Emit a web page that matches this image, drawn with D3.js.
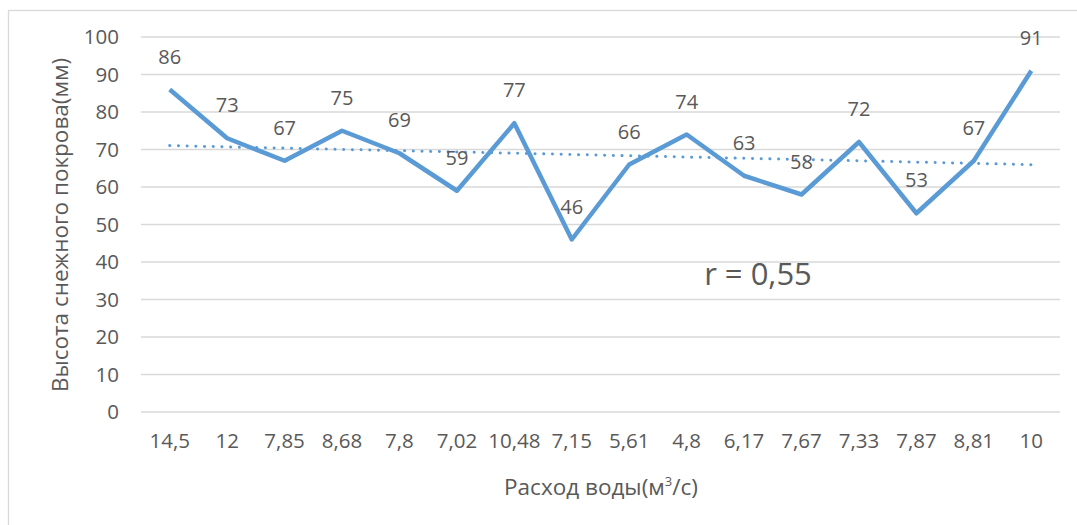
<!DOCTYPE html>
<html>
<head>
<meta charset="utf-8">
<script src="https://cdn.jsdelivr.net/npm/d3@7"></script>
<style>
  body { margin: 0; background: #fff; }
  text { font-family: "Open Sans", "Noto Sans", sans-serif; fill: #595959; }
</style>
</head>
<body>
<div id="chart"></div>
<script>
// Data
const flowLabels = ["14,5", "12", "7,85", "8,68", "7,8", "7,02", "10,48", "7,15",
                    "5,61", "4,8", "6,17", "7,67", "7,33", "7,87", "8,81", "10"];
const snowDepth = [86, 73, 67, 75, 69, 59, 77, 46, 66, 74, 63, 58, 72, 53, 67, 91];
const yTicks = [0, 10, 20, 30, 40, 50, 60, 70, 80, 90, 100];
const corrLabel = "r = 0,55";

const width = 1077, height = 525;
const margin = { top: 37, right: 17, bottom: 113, left: 141 };

const svg = d3.select("#chart")
    .append("svg")
    .attr("width", width)
    .attr("height", height);

// chart area frame
svg.append("rect")
    .attr("x", 8.5).attr("y", 10.5)
    .attr("width", width + 20).attr("height", height + 20)
    .attr("fill", "none")
    .attr("stroke", "#d9d9d9")
    .attr("stroke-width", 1.3);

const x = d3.scaleBand()
    .domain(d3.range(flowLabels.length))
    .range([margin.left, width - margin.right]);

const y = d3.scaleLinear()
    .domain([0, 100])
    .range([height - margin.bottom, margin.top]);

// gridlines
svg.append("g")
    .selectAll("line")
    .data(yTicks)
    .join("line")
    .attr("x1", margin.left)
    .attr("x2", width - margin.right)
    .attr("y1", d => y(d))
    .attr("y2", d => y(d))
    .attr("stroke", "#d9d9d9")
    .attr("stroke-width", 1.3);

// Y axis
svg.append("g")
    .attr("transform", `translate(${margin.left},0)`)
    .call(d3.axisLeft(y).tickValues(yTicks).tickSize(0).tickPadding(22))
    .call(g => g.select(".domain").remove())
    .selectAll("text")
    .style("font-size", "20.5px")
    .attr("fill", "#595959");

// X axis
svg.append("g")
    .attr("transform", `translate(0,${y(0)})`)
    .call(d3.axisBottom(x).tickFormat(i => flowLabels[i]).tickSize(0).tickPadding(21))
    .call(g => g.select(".domain").remove())
    .selectAll("text")
    .style("font-size", "20.5px")
    .attr("fill", "#595959");

// axis titles
svg.append("text")
    .attr("x", 601)
    .attr("y", 495)
    .attr("text-anchor", "middle")
    .style("font-size", "22.5px")
    .html('Расход воды(м<tspan baseline-shift="super" style="font-size:13px">3</tspan>/с)');

svg.append("text")
    .attr("transform", "translate(68,225) rotate(-90)")
    .attr("text-anchor", "middle")
    .style("font-size", "22.5px")
    .text("Высота снежного покрова(мм)");

// linear trendline
const idx = d3.range(snowDepth.length);
const mx = d3.mean(idx), my = d3.mean(snowDepth);
const slope = d3.sum(idx, i => (i - mx) * (snowDepth[i] - my)) / d3.sum(idx, i => (i - mx) ** 2);
const trend = i => my + slope * (i - mx);
const cx = i => x(i) + x.bandwidth() / 2;

svg.append("line")
    .attr("x1", cx(0)).attr("y1", y(trend(0)))
    .attr("x2", cx(idx.length - 1)).attr("y2", y(trend(idx.length - 1)))
    .attr("stroke", "#5b9bd5")
    .attr("stroke-width", 3)
    .attr("stroke-linecap", "round")
    .attr("stroke-dasharray", "0.1 8.6");

// data line
const line = d3.line()
    .x((d, i) => cx(i))
    .y(d => y(d));

svg.append("path")
    .datum(snowDepth)
    .attr("d", line)
    .attr("fill", "none")
    .attr("stroke", "#5b9bd5")
    .attr("stroke-width", 4.5)
    .attr("stroke-linejoin", "round");

// data labels
svg.append("g")
    .selectAll("text")
    .data(snowDepth)
    .join("text")
    .attr("x", (d, i) => cx(i))
    .attr("y", d => y(d) - 26)
    .attr("text-anchor", "middle")
    .style("font-size", "20px")
    .attr("fill", "#404040")
    .text(d => d);

// correlation note
svg.append("text")
    .attr("x", 758)
    .attr("y", 285)
    .attr("text-anchor", "middle")
    .style("font-size", "31px")
    .text(corrLabel);
</script>
</body>
</html>
